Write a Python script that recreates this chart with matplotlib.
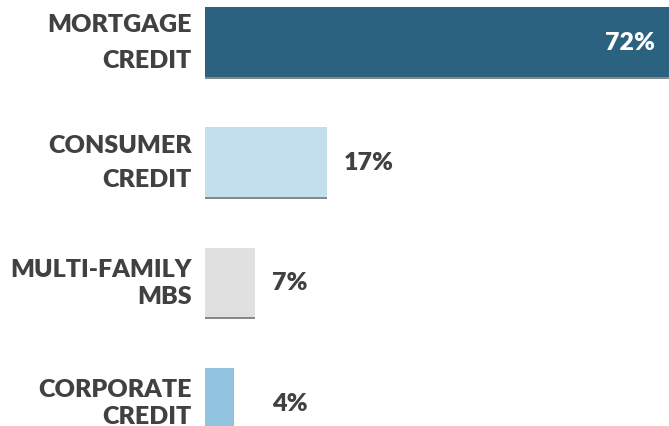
import matplotlib.pyplot as plt
import matplotlib.patheffects as pe

categories = ["MORTGAGE\nCREDIT", "CONSUMER\nCREDIT", "MULTI-FAMILY\nMBS", "CORPORATE\nCREDIT"]
shares = [72, 17, 7, 4]
bar_colors = ["#2a6280", "#c3dfed", "#e0e0e0", "#92c4e0"]
label_spacing = [1.75, 1.7, 1.28, 1.28]

plt.rcParams['font.family'] = ['Lato', 'DejaVu Sans']
text_color = "#414141"

fig = plt.figure(figsize=(6.69, 4.27), dpi=100)
ax = fig.add_axes([205 / 669, 0, 464 / 669, 1])

ypos = list(range(len(shares)))
bars = ax.barh(ypos, shares, height=0.58, color=bar_colors)
for b in bars[:3]:
    b.set_path_effects([pe.withSimplePatchShadow(offset=(0, -1.5), shadow_rgbFace='#7a7a7a', alpha=0.9),
                        pe.Normal()])

xmax = 64.6
ax.set_xlim(0, xmax)
ax.set_ylim(3.1947, -0.3577)
ax.set_xticks([])
ax.set_yticks([])
for s in ax.spines.values():
    s.set_visible(False)

# category labels, right aligned left of the bars
for y, name, ls in zip(ypos, categories, label_spacing):
    ax.annotate(name, (0, y), xytext=(-9.5, 0), textcoords='offset points',
                ha='right', va='center', multialignment='right', fontsize=18,
                fontweight='heavy', color=text_color, linespacing=ls,
                annotation_clip=False)

# value labels
for y, v in zip(ypos, shares):
    if v > xmax:
        ax.annotate(f"{v}%", (xmax, y), xytext=(-10, 0), textcoords='offset points',
                    ha='right', va='center', fontsize=18, fontweight='heavy', color='white')
    else:
        ax.annotate(f"{v}%", (max(v, 7), y), xytext=(12, 0), textcoords='offset points',
                    ha='left', va='center', fontsize=18, fontweight='heavy', color=text_color)

plt.savefig('out.png', dpi=100)
